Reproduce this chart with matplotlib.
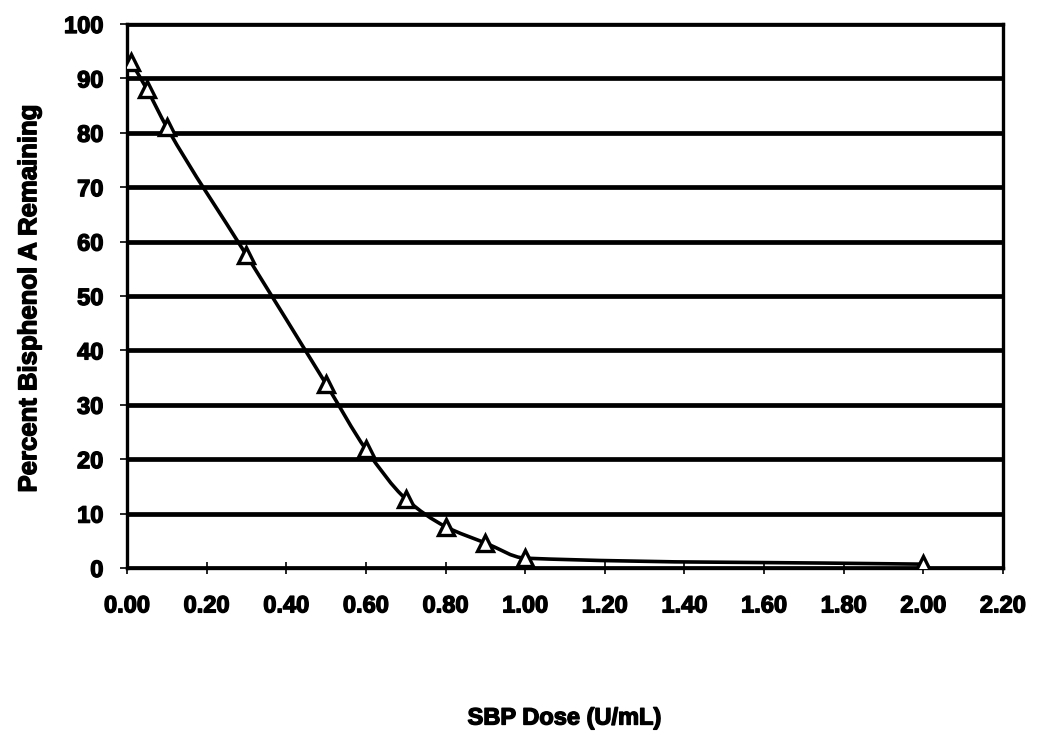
import numpy as np
from matplotlib import pyplot as plt
from matplotlib import patheffects
from matplotlib.path import Path
from matplotlib.patches import PathPatch

# SBP dose (U/mL) and percent bisphenol A remaining
dose = [0.01, 0.05, 0.10, 0.30, 0.50, 0.60, 0.70, 0.80, 0.90, 1.00, 2.00]
remaining = [93.0, 88.0, 81.0, 57.5, 33.8, 21.8, 12.7, 7.6, 4.6, 1.8, 0.7]

xticks = [0.0, 0.2, 0.4, 0.6, 0.8, 1.0, 1.2, 1.4, 1.6, 1.8, 2.0, 2.2]
yticks = list(range(0, 101, 10))

plt.rcParams["font.family"] = ["Liberation Sans", "DejaVu Sans"]
plt.rcParams["font.weight"] = "bold"

# thicken the bold face a little so it reads like a black weight
heavy = [patheffects.withStroke(linewidth=1.0, foreground="black")]


def smooth_path(x, y):
    """Monotone cubic (Fritsch-Carlson) Bezier path through the points."""
    x = np.asarray(x, dtype=float)
    y = np.asarray(y, dtype=float)
    n = len(x)
    h = np.diff(x)
    d = np.diff(y) / h
    m = np.zeros(n)
    m[0], m[-1] = d[0], d[-1]
    for k in range(1, n - 1):
        if d[k - 1] * d[k] > 0:
            w1 = 2 * h[k] + h[k - 1]
            w2 = h[k] + 2 * h[k - 1]
            m[k] = (w1 + w2) / (w1 / d[k - 1] + w2 / d[k])
    verts = [(x[0], y[0])]
    codes = [Path.MOVETO]
    for i in range(n - 1):
        c1 = (x[i] + h[i] / 3, y[i] + m[i] * h[i] / 3)
        c2 = (x[i + 1] - h[i] / 3, y[i + 1] - m[i + 1] * h[i] / 3)
        verts += [c1, c2, (x[i + 1], y[i + 1])]
        codes += [Path.CURVE4] * 3
    return Path(verts, codes)


fig = plt.figure(figsize=(10.42, 7.36), dpi=100)
ax = fig.add_axes([0.1219, 0.2283, 0.8407, 0.7391])

for yv in yticks:
    ax.axhline(yv, color="black", lw=3.4, zorder=1)

ax.add_patch(PathPatch(smooth_path(dose, remaining), fill=False,
                       edgecolor="black", lw=2.6, zorder=3))
ax.plot(dose, remaining, linestyle="none", marker="^", markersize=11,
        markerfacecolor="white", markeredgecolor="black",
        markeredgewidth=2.4, zorder=4)

ax.set_xlim(0, 2.2)
ax.set_ylim(0, 100)
ax.set_xticks(xticks)
ax.set_xticklabels(["%.2f" % v for v in xticks])
ax.set_yticks(yticks)

for side in ["left", "right", "bottom", "top"]:
    ax.spines[side].set_linewidth(2.4)

ax.tick_params(axis="x", direction="inout", length=8, width=1.2,
               labelsize=17, pad=15)
ax.tick_params(axis="y", direction="out", length=5, width=1.2,
               labelsize=17, pad=12)
for lab in ax.get_xticklabels() + ax.get_yticklabels():
    lab.set_path_effects(heavy)

fig.text(0.028, 0.595, "Percent Bisphenol A Remaining", fontsize=18.5,
         rotation=90, ha="center", va="center", path_effects=heavy)
fig.text(0.542, 0.0245, "SBP Dose (U/mL)", fontsize=17,
         ha="center", va="center", path_effects=heavy)

fig.savefig("out.png", dpi=100)
